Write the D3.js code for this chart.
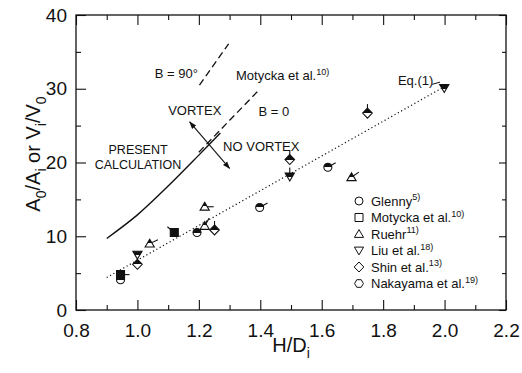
<!DOCTYPE html>
<html>
<head>
<meta charset="utf-8">
<script src="https://cdn.jsdelivr.net/npm/d3@7"></script>
<style>
body { margin: 0; background: #fff; }
text { font-family: "Liberation Sans", Arial, Helvetica, sans-serif; fill: #111; }
</style>
</head>
<body>
<script>
// data: [H/Di, A0/Ai]
var glenny   = [[0.945, 4.1], [1.194, 10.5], [1.398, 13.9], [1.62, 19.35]];
var motycka  = [[0.945, 4.8], [1.12, 10.5]];
var ruehr    = [[1.04, 9.0], [1.219, 14.0], [1.219, 11.4], [1.697, 18.0]];
var liu      = [[1.0, 7.5], [1.496, 18.1], [1.999, 30.1]];
var shin     = [[1.0, 6.2], [1.251, 10.85], [1.496, 20.4], [1.749, 26.7]];
var nakayama = [];

// little scan flags on some markers (angle in degrees, screen coords)
var flags = {
    glenny: [null, null, -30, -30],
    motycka: [0, -140],
    ruehr: [-25, 0, -60, -35],
    liu: [null, -90, null],
    shin: [null, -90, -90, -90],
    nakayama: []
};

// lines
var eqX = [0.9, 2.0], eqY = [4.4, 30.3];
var calcX = [0.9, 1.0, 1.1, 1.2, 1.27];
var calcY = [9.7, 12.9, 16.8, 21.0, 24.0];
var b0X = [1.2, 1.395], b0Y = [21.4, 29.8];
var b90X = [1.202, 1.297], b90Y = [30.5, 36.1];
var arrowX = [1.17, 1.30], arrowY = [25.5, 19.2];

var xTicks = [0.8, 1.0, 1.2, 1.4, 1.6, 1.8, 2.0, 2.2];
var yTicks = [0, 10, 20, 30, 40];

var w = 522, h = 373;

var svg = d3.select("body")
    .append("svg")
    .attr("width", w)
    .attr("height", h);

var x = d3.scaleLinear().domain([0.8, 2.2]).range([76, 506]);
var y = d3.scaleLinear().domain([0, 40]).range([310, 15]);

var defs = svg.append("defs");
var grad = defs.append("linearGradient")
    .attr("id", "half")
    .attr("x1", 0).attr("y1", 0).attr("x2", 0).attr("y2", 1);
grad.append("stop").attr("offset", "0").attr("stop-color", "#111");
grad.append("stop").attr("offset", "0.5").attr("stop-color", "#111");
grad.append("stop").attr("offset", "0.5").attr("stop-color", "#fff");
grad.append("stop").attr("offset", "1").attr("stop-color", "#fff");
defs.append("marker")
    .attr("id", "arr")
    .attr("viewBox", "0 0 10 10")
    .attr("refX", 9).attr("refY", 5)
    .attr("markerWidth", 7).attr("markerHeight", 7)
    .attr("orient", "auto-start-reverse")
    .append("path")
    .attr("d", "M0,1.5 L10,5 L0,8.5 Z")
    .attr("fill", "#111");

// axes, ticks pointing inward
var xMinor = [0.9, 1.1, 1.3, 1.5, 1.7, 1.9, 2.1];
var yMinor = [5, 15, 25, 35];

function clean(g) { g.select(".domain").remove(); g.selectAll("line").attr("stroke", "#111").attr("stroke-width", 1.1); }

svg.append("g").attr("transform", "translate(0,310)")
    .call(d3.axisBottom(x).tickValues(xTicks).tickSize(-10).tickPadding(14).tickFormat(d3.format(".1f")))
    .call(clean)
    .selectAll("text").style("font-size", "19px").attr("fill", "#111");
svg.append("g").attr("transform", "translate(0,310)")
    .call(d3.axisBottom(x).tickValues(xMinor).tickSize(-5).tickFormat(""))
    .call(clean);
svg.append("g").attr("transform", "translate(0,15)")
    .call(d3.axisTop(x).tickValues(xTicks).tickSize(-10).tickFormat(""))
    .call(clean);
svg.append("g").attr("transform", "translate(0,15)")
    .call(d3.axisTop(x).tickValues(xMinor).tickSize(-5).tickFormat(""))
    .call(clean);
svg.append("g").attr("transform", "translate(76,0)")
    .call(d3.axisLeft(y).tickValues(yTicks).tickSize(-10).tickPadding(9).tickFormat(d3.format("d")))
    .call(clean)
    .selectAll("text").style("font-size", "19px").attr("fill", "#111");
svg.append("g").attr("transform", "translate(76,0)")
    .call(d3.axisLeft(y).tickValues(yMinor).tickSize(-5).tickFormat(""))
    .call(clean);
svg.append("g").attr("transform", "translate(506,0)")
    .call(d3.axisRight(y).tickValues(yTicks).tickSize(-7).tickFormat(""))
    .call(clean);
svg.append("g").attr("transform", "translate(506,0)")
    .call(d3.axisRight(y).tickValues(yMinor).tickSize(-4).tickFormat(""))
    .call(clean);

svg.append("rect")
    .attr("x", 76).attr("y", 15)
    .attr("width", 430).attr("height", 295)
    .attr("fill", "none")
    .attr("stroke", "#111")
    .attr("stroke-width", 1.3);

// text with sub / sup parts
function rich(el, parts, size) {
    var off = 0;
    parts.forEach(function(p) {
        var t = el.append("tspan").text(p[0]);
        var target = p[1] === "sub" ? size * 0.3 : p[1] === "sup" ? -size * 0.4 : 0;
        t.attr("dy", target - off).style("font-size", (p[1] ? size * 0.7 : size) + "px");
        off = target;
    });
    return el;
}

// axis titles
rich(svg.append("text")
    .attr("transform", "translate(40,154) rotate(-90)")
    .attr("text-anchor", "middle"),
    [["A", ""], ["0", "sub"], ["/A", ""], ["i", "sub"], [" or V", ""], ["i", "sub"], ["/V", ""], ["0", "sub"]], 20);
rich(svg.append("text")
    .attr("x", 291).attr("y", 352)
    .attr("text-anchor", "middle"),
    [["H/D", ""], ["i", "sub"]], 20);

var line = d3.line().x(function(d){ return x(d[0]); }).y(function(d){ return y(d[1]); });
var curve = d3.line().curve(d3.curveCatmullRom).x(function(d){ return x(d[0]); }).y(function(d){ return y(d[1]); });

svg.append("path")
    .attr("d", line(d3.zip(eqX, eqY)))
    .attr("fill", "none").attr("stroke", "#111")
    .attr("stroke-width", 1.2).attr("stroke-dasharray", "1.2,2.6");
svg.append("path")
    .attr("d", curve(d3.zip(calcX, calcY)))
    .attr("fill", "none").attr("stroke", "#111").attr("stroke-width", 1.4);
svg.append("path")
    .attr("d", line(d3.zip(b0X, b0Y)))
    .attr("fill", "none").attr("stroke", "#111")
    .attr("stroke-width", 1.3).attr("stroke-dasharray", "7,4");
svg.append("path")
    .attr("d", line(d3.zip(b90X, b90Y)))
    .attr("fill", "none").attr("stroke", "#111")
    .attr("stroke-width", 1.3).attr("stroke-dasharray", "7,4");
svg.append("path")
    .attr("d", line(d3.zip(arrowX, arrowY)))
    .attr("fill", "none").attr("stroke", "#111").attr("stroke-width", 1.1)
    .attr("marker-start", "url(#arr)").attr("marker-end", "url(#arr)");

// annotations
function note(xv, yv, parts, anchor, size) {
    return rich(svg.append("text")
        .attr("x", x(xv)).attr("y", y(yv))
        .attr("text-anchor", anchor || "start"), parts, size || 13);
}
note(1.197, 31.45, [["B = 90°", ""]], "end");
note(1.321, 31.2, [["Motycka et al.", ""], ["10)", "sup"]]);
note(1.10, 26.4, [["VORTEX", ""]]);
note(1.394, 26.25, [["B = 0", ""]]);
note(1.279, 21.55, [["NO VORTEX", ""]]);
note(1.002, 21.2, [["PRESENT", ""]], "middle", 12.5);
note(1.002, 19.15, [["CALCULATION", ""]], "middle", 12.5);
note(1.848, 30.45, [["Eq.(1)", ""]]);
svg.append("line")
    .attr("x1", x(1.96)).attr("y1", y(30.6))
    .attr("x2", x(1.985)).attr("y2", y(30.9))
    .attr("stroke", "#111").attr("stroke-width", 1);

// marker shapes
function shape(type, s) {
    if (type === "circle") return d3.symbol(d3.symbolCircle, Math.PI * s * s)();
    if (type === "square") return "M" + -s + "," + -s + "h" + 2 * s + "v" + 2 * s + "h" + -2 * s + "Z";
    if (type === "triUp") return "M0," + -s * 1.1 + "L" + s * 1.15 + "," + s * 0.85 + "L" + -s * 1.15 + "," + s * 0.85 + "Z";
    if (type === "triDown") return "M0," + s * 1.1 + "L" + s * 1.15 + "," + -s * 0.85 + "L" + -s * 1.15 + "," + -s * 0.85 + "Z";
    if (type === "diamond") return "M0," + -s * 1.25 + "L" + s * 1.2 + ",0L0," + s * 1.25 + "L" + -s * 1.2 + ",0Z";
    var pts = d3.range(6).map(function(i){
        var a = Math.PI / 3 * i;
        return [s * 1.1 * Math.cos(a), s * 1.1 * Math.sin(a)];
    });
    return "M" + pts.join("L") + "Z";
}

var series = [
    { key: "glenny", name: "Glenny", sup: "5)", type: "circle", pts: glenny, fill: "url(#half)" },
    { key: "motycka", name: "Motycka et al.", sup: "10)", type: "square", pts: motycka, fill: "#111" },
    { key: "ruehr", name: "Ruehr", sup: "11)", type: "triUp", pts: ruehr, fill: "url(#half)" },
    { key: "liu", name: "Liu et al.", sup: "18)", type: "triDown", pts: liu, fill: "url(#half)" },
    { key: "shin", name: "Shin et al.", sup: "13)", type: "diamond", pts: shin, fill: "url(#half)" },
    { key: "nakayama", name: "Nakayama et al.", sup: "19)", type: "hexagon", pts: nakayama, fill: "url(#half)" }
];

series.forEach(function(s) {
    var g = svg.append("g");
    g.selectAll(".flag")
        .data(s.pts.map(function(d, i){ return [d, flags[s.key][i]]; }).filter(function(d){ return d[1] !== null && d[1] !== undefined; }))
        .enter()
        .append("line")
        .attr("class", "flag")
        .attr("x1", function(d){ return x(d[0][0]); })
        .attr("y1", function(d){ return y(d[0][1]); })
        .attr("x2", function(d){ return x(d[0][0]) + 9 * Math.cos(d[1] * Math.PI / 180); })
        .attr("y2", function(d){ return y(d[0][1]) + 9 * Math.sin(d[1] * Math.PI / 180); })
        .attr("stroke", "#111").attr("stroke-width", 1.1);
    g.selectAll(".pt")
        .data(s.pts)
        .enter()
        .append("path")
        .attr("class", "pt")
        .attr("d", shape(s.type, 4))
        .attr("transform", function(d){ return "translate(" + x(d[0]) + "," + y(d[1]) + ")"; })
        .attr("fill", s.fill)
        .attr("stroke", "#111")
        .attr("stroke-width", 1.1);
});

// legend
var legend = svg.append("g").attr("transform", "translate(359,201)");
var rows = legend.selectAll("g")
    .data(series)
    .enter()
    .append("g")
    .attr("transform", function(d, i){ return "translate(0," + (i * 16.5) + ")"; });
rows.append("path")
    .attr("d", function(d){ return shape(d.type, 4); })
    .attr("fill", "#fff")
    .attr("stroke", "#111")
    .attr("stroke-width", 1);
rows.each(function(d) {
    rich(d3.select(this).append("text").attr("x", 12).attr("y", 4.5),
        [[d.name, ""], [d.sup, "sup"]], 13);
});
</script>
</body>
</html>
